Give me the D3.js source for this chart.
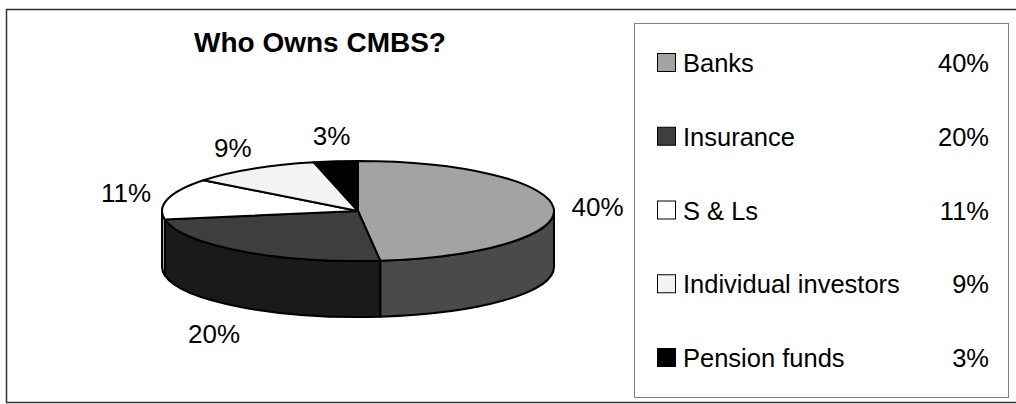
<!DOCTYPE html>
<html>
<head>
<meta charset="utf-8">
<script src="https://cdn.jsdelivr.net/npm/d3@7"></script>
<style>
  html, body { margin: 0; padding: 0; background: #fff; }
  svg { display: block; font-family: "Liberation Sans", Arial, sans-serif; }
</style>
</head>
<body>
<svg id="chart" width="1016" height="404"></svg>
<script>
// Ownership shares of CMBS (percent)
const categories = ["Banks", "Insurance", "S & Ls", "Individual investors", "Pension funds"];
const shares = [40, 20, 11, 9, 3];
const topColors = ["#a3a3a3", "#3e3e3e", "#ffffff", "#f3f3f3", "#000000"];
const sideColors = ["#4a4a4a", "#1a1a1a", "#c8c8c8", "#c0c0c0", "#000000"];
const title = "Who Owns CMBS?";

const svg = d3.select("#chart");

// outer chart frame
svg.append("rect")
  .attr("x", 6.5).attr("y", 9.5)
  .attr("width", 1030).attr("height", 393)
  .attr("fill", "#fff").attr("stroke", "#333").attr("stroke-width", 1.5);

// title
svg.append("text")
  .attr("x", 320).attr("y", 52)
  .attr("text-anchor", "middle")
  .attr("font-size", 28).attr("font-weight", "bold")
  .attr("fill", "#000")
  .text(title);

// 3D pie geometry
const cx = 358, cy = 211, rx = 196, ry = 50, depth = 56;
const xS = d3.scaleLinear().domain([-1, 1]).range([cx - rx, cx + rx]);
const yS = d3.scaleLinear().domain([-1, 1]).range([cy + ry, cy - ry]);
const pt = (a, dz = 0) => [xS(Math.sin(a)), yS(Math.cos(a)) + dz];

const arcs = d3.pie().sort(null).value(d => d)(shares);

const g = svg.append("g");

// visible side walls (front half: from 90° to 270°)
arcs.forEach((d, i) => {
  const lo = Math.max(d.startAngle, Math.PI / 2);
  const hi = Math.min(d.endAngle, 3 * Math.PI / 2);
  if (lo >= hi) return;
  const large = (hi - lo) > Math.PI ? 1 : 0;
  const [x0, y0] = pt(lo), [x1, y1] = pt(hi);
  const [x2, y2] = pt(hi, depth), [x3, y3] = pt(lo, depth);
  const p = `M${x0},${y0} A${rx},${ry} 0 ${large} 1 ${x1},${y1} L${x2},${y2} A${rx},${ry} 0 ${large} 0 ${x3},${y3} Z`;
  g.append("path").attr("d", p)
    .attr("fill", sideColors[i]).attr("stroke", "#000")
    .attr("stroke-width", 2).attr("stroke-linejoin", "round");
});

// top faces
arcs.forEach((d, i) => {
  const large = (d.endAngle - d.startAngle) > Math.PI ? 1 : 0;
  const [x0, y0] = pt(d.startAngle), [x1, y1] = pt(d.endAngle);
  const p = `M${cx},${cy} L${x0},${y0} A${rx},${ry} 0 ${large} 1 ${x1},${y1} Z`;
  g.append("path").attr("d", p)
    .attr("fill", topColors[i]).attr("stroke", "#000")
    .attr("stroke-width", 2).attr("stroke-linejoin", "round");
});

// percentage labels around the pie
const labelSize = 26, gapX = 18, gapY = 16;
arcs.forEach((d, i) => {
  const mid = (d.startAngle + d.endAngle) / 2;
  const s = Math.sin(mid), c = Math.cos(mid);
  const t = g.append("text")
    .attr("font-size", labelSize).attr("fill", "#000")
    .attr("text-anchor", "middle")
    .text(shares[i] + "%");
  const w = t.node().getComputedTextLength();
  const h = labelSize * 0.72;
  const ax = cx + (rx + gapX) * s;
  const ay = cy - (ry + gapY) * c + (c < 0 ? depth + 6 : 0);
  const mx = ax + (w / 2) * s;
  const my = ay - (h / 2) * c;
  t.attr("x", mx).attr("y", my + h / 2);
});

// legend
const legend = svg.append("g");
legend.append("rect")
  .attr("x", 634.5).attr("y", 23.5)
  .attr("width", 374).attr("height", 374)
  .attr("fill", "#fff").attr("stroke", "#808080").attr("stroke-width", 1);

const rowY = d3.scalePoint().domain(categories).range([72, 367]);
categories.forEach((name, i) => {
  const y = rowY(name);
  legend.append("rect")
    .attr("x", 657.5).attr("y", y - 18.5)
    .attr("width", 18).attr("height", 18)
    .attr("fill", topColors[i]).attr("stroke", "#000").attr("stroke-width", 1);
  legend.append("text")
    .attr("x", 683).attr("y", y)
    .attr("font-size", 25.5).attr("fill", "#000")
    .text(name);
  legend.append("text")
    .attr("x", 989).attr("y", y)
    .attr("font-size", 25.5).attr("fill", "#000")
    .attr("text-anchor", "end")
    .text(shares[i] + "%");
});
</script>
</body>
</html>
